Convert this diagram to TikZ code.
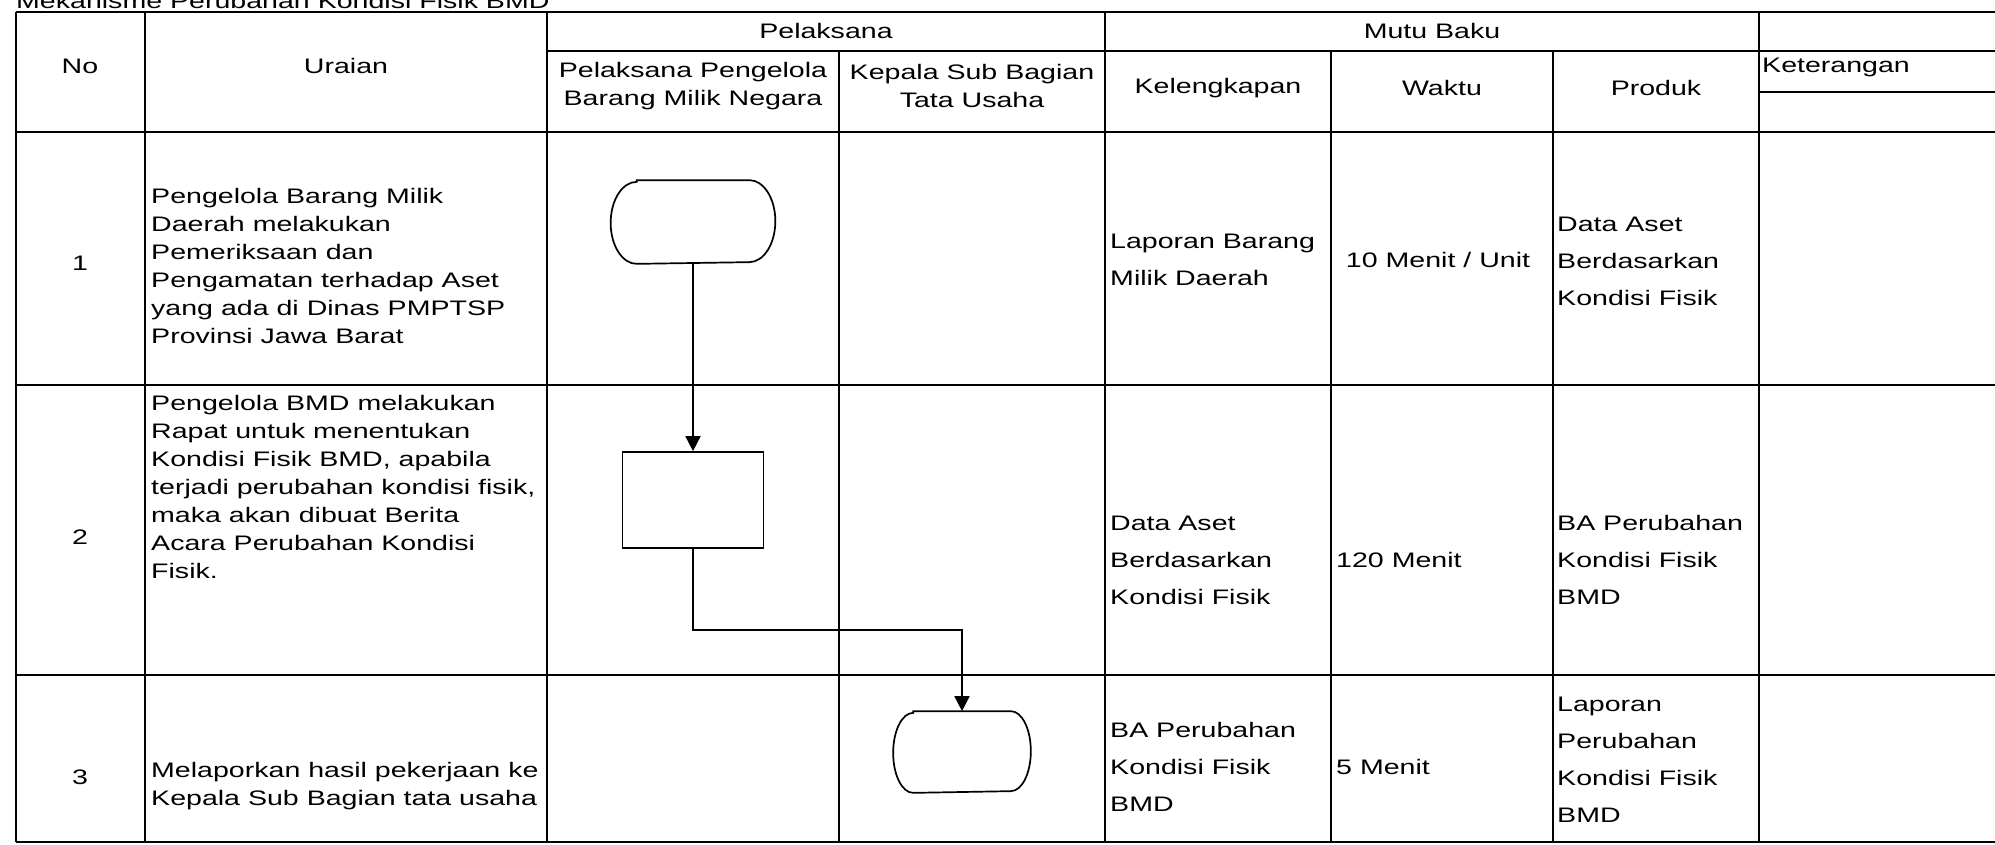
\documentclass[tikz,border=0pt]{standalone}
\usepackage{fontspec}
\setmainfont{Liberation Sans}[FakeStretch=1.36]
\usetikzlibrary{arrows.meta}

\newcommand{\termline}[3]{%
  \draw[shapeline] ([xshift=#2]#1.north west) -- ([xshift=-#2]#1.north east)
    arc[start angle=90,end angle=-90,x radius=#2,y radius=#3]
    -- ([xshift=#2]#1.south west)
    arc[start angle=270,end angle=90,x radius=#2,y radius=#3] -- cycle;}

\begin{document}
\begin{tikzpicture}[x=1pt,y=-1pt,
  grid/.style={line width=2.2pt},
  shapeline/.style={line width=1.7pt},
  flow/.style={line width=1.7pt,-{Triangle[width=15pt,length=15pt]}},
  box/.style={inner sep=0pt,shapeline},
  txt/.style={inner sep=0pt,align=left,font=\fontsize{21}{28}\selectfont},
  mid/.style={inner sep=0pt,align=center,font=\fontsize{21}{28}\selectfont},
  mutu/.style={inner sep=0pt,align=left,font=\fontsize{21}{37}\selectfont}]
\useasboundingbox (0,0) rectangle (1995,844);

\node[txt,anchor=base west] (title) at (16,8) {Mekanisme Perubahan Kondisi Fisik BMD};

\draw[grid] (16,12) -- (1995,12);
\draw[grid] (547,51) -- (1995,51);
\draw[grid] (1759,92) -- (1995,92);
\draw[grid] (16,132) -- (1995,132);
\draw[grid] (16,385) -- (1995,385);
\draw[grid] (16,675) -- (1995,675);
\draw[grid] (16,842) -- (1995,842);

\foreach \x in {16,145,547,1105,1759}
  \draw[grid] (\x,12) -- (\x,842);
\foreach \x in {839,1331,1553}
  \draw[grid] (\x,51) -- (\x,842);

\node[mid] (hno) at (80,66) {No};
\node[mid] (hur) at (346,66) {Uraian};
\node[mid] (hpel) at (826,31) {Pelaksana};
\node[mid] (hmutu) at (1432,31) {Mutu Baku};
\node[mid] (hpbmn) at (693,86) {Pelaksana Pengelola\\Barang Milik Negara};
\node[mid] (hkasub) at (972,86) {Kepala Sub Bagian\\Tata Usaha};
\node[mid] (hkel) at (1218,88) {Kelengkapan};
\node[mid] (hwak) at (1442,88) {Waktu};
\node[mid] (hpro) at (1656,88) {Produk};
\node[txt,anchor=west] (hket) at (1762,67) {Keterangan};

\node[mid] (no1) at (80,263) {1};
\node[txt,anchor=west] (ur1) at (151,266) {Pengelola Barang Milik\\Daerah melakukan\\Pemeriksaan dan\\Pengamatan terhadap Aset\\yang ada di Dinas PMPTSP\\Provinsi Jawa Barat};
\node[mutu,anchor=west] (kel1) at (1110,260) {Laporan Barang\\Milik Daerah};
\node[mid] (wak1) at (1438,260) {10 Menit / Unit};
\node[mutu,anchor=west] (pro1) at (1557,261) {Data Aset\\Berdasarkan\\Kondisi Fisik};

\node[mid] (no2) at (80,537) {2};
\node[txt,anchor=west] (ur2) at (151,487) {Pengelola BMD melakukan\\Rapat untuk menentukan\\Kondisi Fisik BMD, apabila\\terjadi perubahan kondisi fisik,\\maka akan dibuat Berita\\Acara Perubahan Kondisi\\Fisik.};
\node[mutu,anchor=west] (kel2) at (1110,560) {Data Aset\\Berdasarkan\\Kondisi Fisik};
\node[txt,anchor=west] (wak2) at (1336,560) {120 Menit};
\node[mutu,anchor=west] (pro2) at (1557,560) {BA Perubahan\\Kondisi Fisik\\BMD};

\node[mid] (no3) at (80,777) {3};
\node[txt,anchor=west] (ur3) at (151,786) {Melaporkan hasil pekerjaan ke\\Kepala Sub Bagian tata usaha};
\node[mutu,anchor=west] (kel3) at (1110,767) {BA Perubahan\\Kondisi Fisik\\BMD};
\node[txt,anchor=west] (wak3) at (1336,767) {5 Menit};
\node[mutu,anchor=west] (pro3) at (1557,760) {Laporan\\Perubahan\\Kondisi Fisik\\BMD};

\node[box,minimum width=163pt,minimum height=82pt] (t1) at (693,222) {};
\termline{t1}{26pt}{41pt}
\node[box,draw,minimum width=141pt,minimum height=96pt] (r2) at (693,500) {};
\node[box,minimum width=136pt,minimum height=80pt] (t3) at (962,752) {};
\termline{t3}{20pt}{40pt}
\coordinate (bend) at (962,630);

\draw[flow] (t1.south) -- (r2.north);
\draw[flow] (r2.south) |- (bend) -- (t3.north);
\end{tikzpicture}
\end{document}
